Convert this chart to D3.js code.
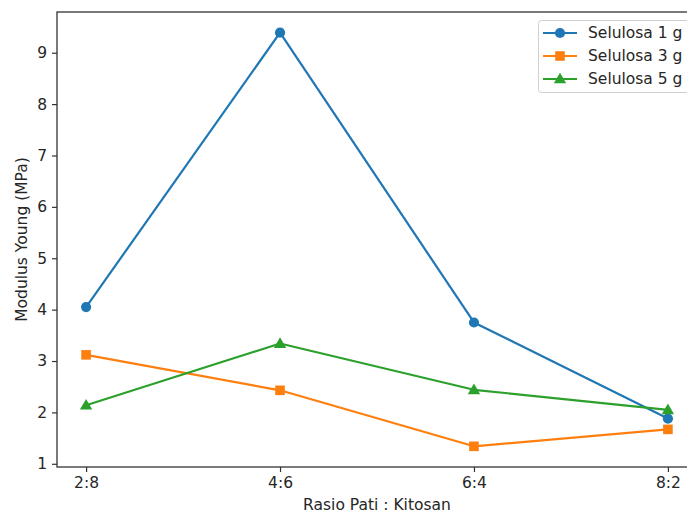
<!DOCTYPE html>
<html><head><meta charset="utf-8">
<script src="https://cdn.jsdelivr.net/npm/d3@7"></script>
<style>
html,body{margin:0;padding:0;background:#fff;overflow:hidden;}
text{font-family:"DejaVu Sans",sans-serif;fill:#262626;}
</style></head>
<body>
<svg id="chart" width="687" height="513"></svg>
<script>
const categories = ["2:8", "4:6", "6:4", "8:2"];
const seriesNames = ["Selulosa 1 g", "Selulosa 3 g", "Selulosa 5 g"];
const selulosa1 = [4.05, 9.39, 3.75, 1.88];
const selulosa3 = [3.12, 2.43, 1.34, 1.67];
const selulosa5 = [2.14, 3.34, 2.44, 2.05];
const yTicks = [1, 2, 3, 4, 5, 6, 7, 8, 9];
const colors = ["#1f77b4", "#ff7f0e", "#2ca02c"];
const markers = ["circle", "square", "triangle"];
const xLabel = "Rasio Pati : Kitosan";
const yLabel = "Modulus Young (MPa)";

const series = [selulosa1, selulosa3, selulosa5].map((v, i) => ({name: seriesNames[i], values: v, color: colors[i], marker: markers[i]}));

const svg = d3.select("#chart");
const L = 57, R = 697, T = 12, B = 467;

const allV = series.flatMap(s => s.values);
const vmin = d3.min(allV), vmax = d3.max(allV), pad = (vmax - vmin) * 0.05;
const x = d3.scaleLinear().domain([-0.15, categories.length - 1 + 0.15]).range([L, R]);
const y = d3.scaleLinear().domain([vmin - pad, vmax + pad]).range([B, T]);

// axes
const xAxis = d3.axisBottom(x).tickValues(d3.range(categories.length)).tickFormat(i => categories[i]).tickSize(5).tickPadding(5);
const yAxis = d3.axisLeft(y).tickValues(yTicks).tickFormat(d3.format("d")).tickSize(5).tickPadding(5);

const gx = svg.append("g").attr("transform", `translate(0,${B})`).call(xAxis);
const gy = svg.append("g").attr("transform", `translate(${L},0)`).call(yAxis);
[gx, gy].forEach(g => {
  g.select(".domain").remove();
  g.selectAll(".tick line").attr("stroke", "#333").attr("stroke-width", 1.2);
  g.selectAll(".tick text").attr("font-size", 15.5).attr("fill", "#262626").attr("font-family", "DejaVu Sans");
});

// spines
svg.append("rect").attr("x", L).attr("y", T).attr("width", R - L).attr("height", B - T)
  .attr("fill", "none").attr("stroke", "#333").attr("stroke-width", 1.3);

// labels
svg.append("text").attr("x", (L + R) / 2).attr("y", 510).attr("text-anchor", "middle").attr("font-size", 15.5).text(xLabel);
svg.append("text").attr("transform", `translate(27,${(T + B) / 2}) rotate(-90)`).attr("text-anchor", "middle").attr("font-size", 15.5).text(yLabel);

function drawMarker(g, type, cx, cy, color) {
  if (type === "circle") {
    g.append("circle").attr("cx", cx).attr("cy", cy).attr("r", 5.1).attr("fill", color);
  } else if (type === "square") {
    g.append("rect").attr("x", cx - 4.8).attr("y", cy - 4.8).attr("width", 9.6).attr("height", 9.6).attr("fill", color);
  } else {
    const sym = d3.symbol().type(d3.symbolTriangle).size(66);
    g.append("path").attr("d", sym()).attr("transform", `translate(${cx},${cy + 0.8})`).attr("fill", color);
  }
}

const line = d3.line().x((d, i) => x(i)).y(d => y(d));
const plot = svg.append("g");
series.forEach(s => {
  plot.append("path").datum(s.values).attr("d", line).attr("fill", "none")
    .attr("stroke", s.color).attr("stroke-width", 2.2).attr("stroke-linejoin", "round");
  s.values.forEach((v, i) => drawMarker(plot, s.marker, x(i), y(v), s.color));
});

// legend
const lg = svg.append("g");
lg.append("rect").attr("x", 538.5).attr("y", 20.5).attr("width", 160).attr("height", 72).attr("rx", 3)
  .attr("fill", "#fff").attr("fill-opacity", 0.8).attr("stroke", "#d0d0d0").attr("stroke-width", 1);
series.forEach((s, i) => {
  const cy = 33 + i * 23;
  lg.append("line").attr("x1", 543).attr("x2", 577).attr("y1", cy).attr("y2", cy).attr("stroke", s.color).attr("stroke-width", 2.2);
  drawMarker(lg, s.marker, 560, cy, s.color);
  lg.append("text").attr("x", 588).attr("y", cy).attr("dy", "0.35em").attr("font-size", 15.5).text(s.name);
});
</script>
</body></html>
